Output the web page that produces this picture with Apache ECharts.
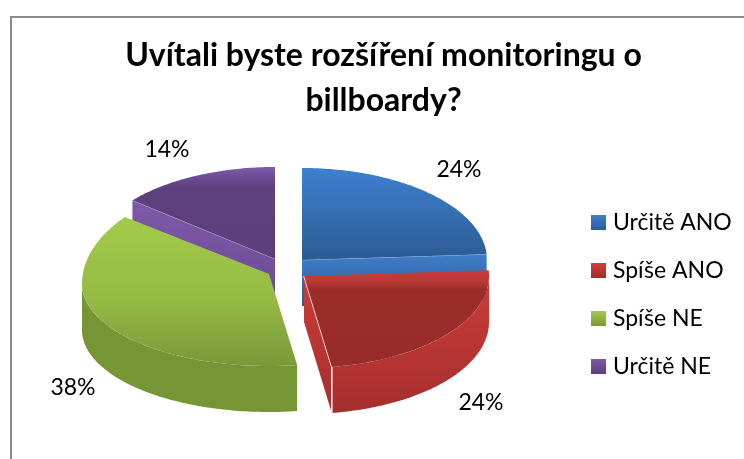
<!DOCTYPE html>
<html><head><meta charset="utf-8">
<style>html,body{margin:0;padding:0;background:#fff}#c{width:744px;height:459px}</style>
<script src="https://cdn.jsdelivr.net/npm/echarts@6/dist/echarts.min.js"></script>
</head><body><div id="c"></div>
<script>
const categories = ['Určitě ANO', 'Spíše ANO', 'Spíše NE', 'Určitě NE'];
const values = [24, 23.6, 38.4, 14];

const FONT = 'Lato, "Open Sans", sans-serif';
const DEPTH = 46;
// apex of each exploded slice, and the rim: x radius, rim centre y, back and front y radii
const centers = [[302,260],[304,276],[269,274],[275,259]];
const rims = [
  {rx:185,cy:260,back:92,front:92},
  {rx:185,cy:276,back:92,front:92},
  {rx:187,cy:284,back:105,front:82},
  {rx:185,cy:259,back:92,front:92}
];
const labelPos = [[459,170],[481,403],[73,388],[167,150]];
const drawOrder = [3,0,2,1];
const v = (a,b) => ({type:'linear',x:0,y:0,x2:0,y2:1,colorStops:a.map((c,i)=>({offset:b?b[i]:i/(a.length-1),color:c}))});
const faceFill = [
  v(['#3e80d0','#2c5b94']),
  v(['#c53c39','#c03a38','#9c2d2b','#982c2a'],[0,.1,.2,1]),
  v(['#a2cb4a','#96bb44','#7a9838'],[0,.55,1]),
  v(['#8059aa','#6a4a90','#5f407f','#5d3f7e'],[0,.13,.22,1])
];
const sideFill = [
  v(['#3f7ec9','#2a5a95']),
  v(['#cb3d39','#a52e2d']),
  v(['#769535','#769535']),
  v(['#8059aa','#694a92'])
];
const legendFill = [
  v(['#3e80d0','#2c5b94']), v(['#cf3f3b','#a02d2c']), v(['#a2cb4a','#7a9838']), v(['#8059aa','#5d3f7e'])
];

function pt(i, deg, dy){
  const r = deg*Math.PI/180, m = rims[i], c = Math.cos(r);
  return [centers[i][0]+m.rx*Math.sin(r), m.cy-(c>0?m.back:m.front)*c+(dy||0)];
}
function arc(i, a, b, dy){
  const pts=[], n=Math.max(2,Math.ceil(Math.abs(b-a)));
  for(let k=0;k<=n;k++) pts.push(pt(i,a+(b-a)*k/n,dy));
  return pts;
}
const total = values.reduce((s,x)=>s+x,0);
function startAngle(i){ let s=0; for(let k=0;k<i;k++) s+=values[k]; return s/total*360; }

function renderSlice(i){
  return function(params, api){
    const val = api.value(1);
    const a = startAngle(i), b = a + val/total*360, c = centers[i];
    const kids = [];
    const f0 = Math.max(a,90), f1 = Math.min(b,270);
    if(f1>f0){
      kids.push({type:'polygon',shape:{points:arc(i,f0,f1,0).concat(arc(i,f1,f0,DEPTH))},style:{fill:sideFill[i]}});
    }
    const cut = d => {
      const p = pt(i,d,0);
      kids.push({type:'polygon',shape:{points:[c,p,[p[0],p[1]+DEPTH],[c[0],c[1]+DEPTH]]},style:{fill:sideFill[i]}});
      return p;
    };
    if(i===0||i===3){
      const p = cut(i===0?b:a);
      kids.push({type:'polyline',shape:{points:[c,p]},style:{fill:null,stroke:'rgba(255,255,255,.35)',lineWidth:1}});
    }
    if(i===1){
      const p = cut(b);
      kids.push({type:'polyline',shape:{points:[c,p,[p[0],p[1]+DEPTH]]},style:{fill:null,stroke:'#fff',lineWidth:1.5}});
    }
    kids.push({type:'polygon',shape:{points:[c].concat(arc(i,a,b,0))},style:{fill:faceFill[i]}});
    kids.push({type:'text',style:{text:Math.round(val)+'%',x:labelPos[i][0],y:labelPos[i][1],align:'center',verticalAlign:'middle',font:'23px '+FONT,fill:'#000'}});
    return {type:'group',children:kids};
  };
}

const option = {
  animation:false,
  backgroundColor:'#fff',
  title:{text:'Uvítali byste rozšíření monitoringu o\nbillboardy?',left:378.5,top:28,textAlign:'center',
    textStyle:{fontFamily:FONT,fontWeight:'bold',fontSize:32,lineHeight:45,color:'#000'}},
  legend:{orient:'vertical',left:591,top:211,padding:0,itemWidth:15,itemHeight:15,itemGap:25,icon:'rect',
    data:categories,textStyle:{fontFamily:FONT,fontSize:23,color:'#000',padding:[0,0,0,2]}},
  graphic:[{type:'rect',silent:true,shape:{x:11,y:17,width:900,height:600},style:{fill:null,stroke:'#8c8c8c',lineWidth:2}}],
  series:drawOrder.map((i,z)=>({
    type:'custom',name:categories[i],coordinateSystem:'none',z:2+z,
    itemStyle:{color:legendFill[i]},
    data:[[categories[i],values[i]]],
    renderItem:renderSlice(i)
  }))
};
echarts.init(document.getElementById('c'),null,{renderer:'canvas'}).setOption(option);
</script></body></html>
